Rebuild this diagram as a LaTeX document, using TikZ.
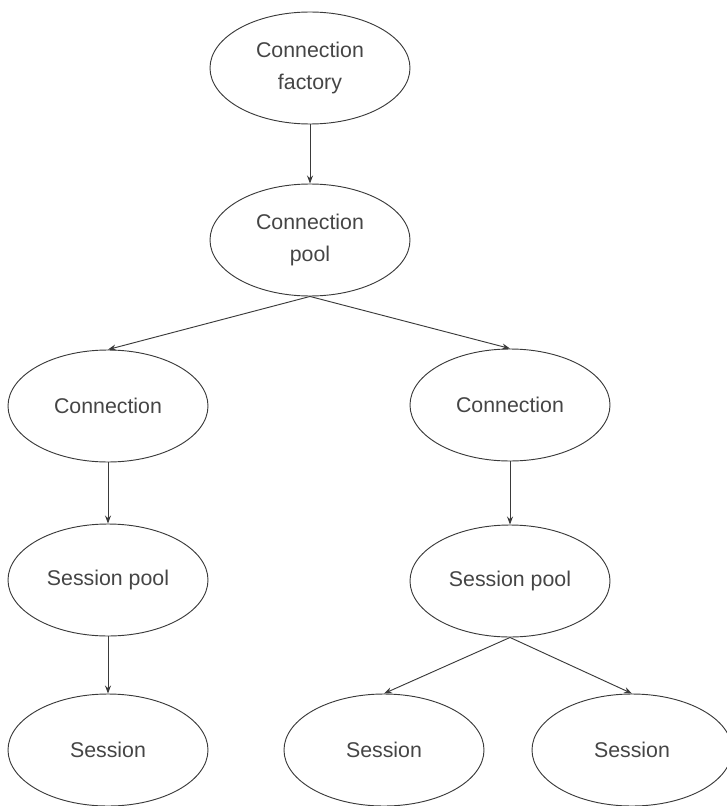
\documentclass[tikz,border=0pt]{standalone}
\usepackage{fontspec}
\setmainfont{Liberation Sans}
\usepackage{tikz}
\usetikzlibrary{arrows.meta,shapes.geometric}
\definecolor{inkgray}{HTML}{3A3A3A}
\definecolor{txtgray}{HTML}{454545}

\begin{document}
\begin{tikzpicture}[x=0.75pt,y=-0.75pt,
  obj/.style={draw=inkgray,ellipse,line width=0.7pt,inner sep=0pt,minimum width=150pt,minimum height=84pt,align=center,font=\fontsize{16}{24}\selectfont,text=txtgray},
  arr/.style={-{Stealth[length=6pt,width=4.5pt]},line width=0.7pt,draw=inkgray}
]
\useasboundingbox (0,0) rectangle (727,806);
\node[obj] (fac) at (310,68) {Connection\\factory};
\node[obj] (pool) at (310,240) {Connection\\pool};
\node[obj] (conL) at (108,406) {Connection};
\node[obj] (conR) at (510,405) {Connection};
\node[obj] (spL) at (108,580) {Session pool};
\node[obj] (spR) at (510,581) {Session pool};
\node[obj] (sesL) at (108,750) {Session};
\node[obj] (sesM) at (384,750) {Session};
\node[obj] (sesR) at (632,750) {Session};
\draw[arr] (fac) -- (pool);
\draw[arr] (pool.south) -- (conL.north);
\draw[arr] (pool.south) -- (conR.north);
\draw[arr] (conL) -- (spL);
\draw[arr] (conR) -- (spR);
\draw[arr] (spL) -- (sesL);
\draw[arr] (spR.south) -- (sesM.north);
\draw[arr] (spR.south) -- (sesR.north);
\end{tikzpicture}
\end{document}
